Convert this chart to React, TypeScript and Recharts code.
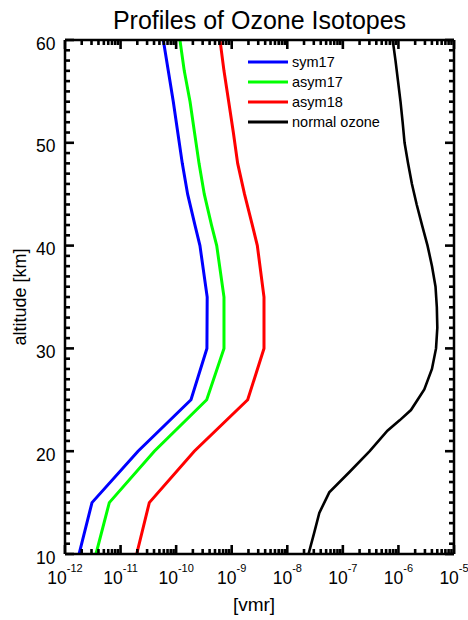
import React from "react";
import { Label, Legend, Line, LineChart, XAxis, YAxis } from "recharts";

// altitude grid of the isotope profiles [km]
const isoAlt = [10, 15, 20, 25, 30, 35, 40, 42, 45, 48, 51, 54, 57, 60];
// vmr values
const sym17 = [
	1.79e-12, 3.06e-12, 2.06e-11, 1.85e-10, 3.58e-10, 3.62e-10, 2.68e-10,
	2.18e-10, 1.61e-10, 1.29e-10, 1.07e-10, 8.89e-11, 7.22e-11, 5.87e-11,
];
const asym17 = [
	3.61e-12, 6.27e-12, 4.05e-11, 3.55e-10, 7.26e-10, 7.26e-10, 5.37e-10,
	4.33e-10, 3.21e-10, 2.58e-10, 2.14e-10, 1.78e-10, 1.4e-10, 1.17e-10,
];
const asym18 = [
	1.95e-11, 3.29e-11, 2.12e-10, 1.94e-9, 3.81e-9, 3.81e-9, 2.89e-9,
	2.35e-9, 1.7e-9, 1.28e-9, 1.07e-9, 8.83e-10, 7.26e-10, 6.15e-10,
];

const ozoneAlt = [
	10, 12, 14, 16, 18, 20, 22, 23, 24, 26, 28, 30, 32, 34, 36, 38, 40, 42, 44,
	46, 48, 50, 52, 54, 56, 58, 60,
];
const ozone = [
	2.41e-8, 3.03e-8, 3.77e-8, 5.7e-8, 1.33e-7, 3.04e-7, 6.34e-7, 1.05e-6,
	1.68e-6, 2.92e-6, 4.01e-6, 4.75e-6, 5.01e-6, 4.91e-6, 4.65e-6, 4.02e-6,
	3.34e-6, 2.66e-6, 2.13e-6, 1.75e-6, 1.49e-6, 1.29e-6, 1.19e-6, 1.09e-6,
	9.83e-7, 8.86e-7, 7.89e-7,
];

// tick layout
const decades = [-12, -11, -10, -9, -8, -7, -6, -5];
const mantissas = [1, 2, 3, 4, 5, 6, 7, 8, 9];
const altMajor = [10, 20, 30, 40, 50, 60];

const xTicks: number[] = [];
decades.forEach((e) => {
	if (e === -5) xTicks.push(1e-5);
	else mantissas.forEach((m) => xTicks.push(m * Math.pow(10, e)));
});
const yTicks: number[] = [];
for (let a = 10; a <= 60; a++) yTicks.push(a);

const FONT = "Liberation Sans, Arial, Helvetica, sans-serif";
const W = 468;
const H = 620;
const MINOR = 5;
const MAJOR = 9;
const TICK_W = 2.6;

const toRows = (alts: number[], vals: number[]) =>
	alts.map((alt, i) => ({ alt, v: vals[i] }));

const series = [
	{ name: "sym17", color: "#0000ff", data: toRows(isoAlt, sym17), width: 3 },
	{ name: "asym17", color: "#00ff00", data: toRows(isoAlt, asym17), width: 3 },
	{ name: "asym18", color: "#ff0000", data: toRows(isoAlt, asym18), width: 3 },
	{ name: "normal ozone", color: "#000000", data: toRows(ozoneAlt, ozone), width: 2.6 },
];
const seriesNames = series.map((s) => s.name);

const isDecade = (v: number) => {
	const lg = Math.log10(v);
	return Math.abs(lg - Math.round(lg)) < 1e-6;
};

// tickSize/tickMargin are 0, so x,y handed to the ticks sit on the axis line
function BottomTick(props: any) {
	const { x, y, payload } = props;
	const major = isDecade(payload.value);
	return (
		<g>
			<line x1={x} x2={x} y1={y} y2={y - (major ? MAJOR : MINOR)} stroke="black" strokeWidth={TICK_W} />
			{major && (
				<text x={x} y={y + 30} textAnchor="middle" fontSize={17.5} fontFamily={FONT} fill="black">
					10
					<tspan dy={-12} fontSize={11}>
						{Math.round(Math.log10(payload.value))}
					</tspan>
				</text>
			)}
		</g>
	);
}

function TopTick(props: any) {
	const { x, y, payload } = props;
	const major = isDecade(payload.value);
	return <line x1={x} x2={x} y1={y} y2={y + (major ? MAJOR : MINOR)} stroke="black" strokeWidth={TICK_W} />;
}

function LeftTick(props: any) {
	const { x, y, payload } = props;
	const major = altMajor.includes(payload.value);
	return (
		<g>
			<line x1={x} x2={x + (major ? MAJOR : MINOR)} y1={y} y2={y} stroke="black" strokeWidth={TICK_W} />
			{major && (
				<text x={x - 9.5} y={y + 9.5} textAnchor="end" fontSize={17.5} fontFamily={FONT} fill="black">
					{payload.value}
				</text>
			)}
		</g>
	);
}

function RightTick(props: any) {
	const { x, y, payload } = props;
	const major = altMajor.includes(payload.value);
	return <line x1={x} x2={x - (major ? MAJOR : MINOR)} y1={y} y2={y} stroke="black" strokeWidth={TICK_W} />;
}

function TitleLabel(props: any) {
	const vb = props.viewBox;
	return (
		<text x={vb.x + vb.width / 2} y={vb.y - 10} textAnchor="middle" fontSize={25} fontFamily={FONT} fill="black">
			Profiles of Ozone Isotopes
		</text>
	);
}

function XTitle(props: any) {
	const vb = props.viewBox;
	return (
		<text x={vb.x + vb.width / 2 - 5.5} y={vb.y + 57} textAnchor="middle" fontSize={19} fontFamily={FONT} fill="black">
			[vmr]
		</text>
	);
}

function YTitle(props: any) {
	const vb = props.viewBox;
	const cy = vb.y + vb.height / 2;
	return (
		<text transform={`translate(25.5,${cy}) rotate(-90)`} textAnchor="middle" fontSize={18} fontFamily={FONT} fill="black">
			altitude [km]
		</text>
	);
}

function LegendBox(props: any) {
	const items = (props.payload ?? []).filter((it: any) => seriesNames.includes(it.value));
	return (
		<div style={{ fontFamily: FONT, fontSize: 14.5, color: "#000" }}>
			{items.map((it: any) => (
				<div key={it.value} style={{ height: 20, lineHeight: "20px", display: "flex", alignItems: "center" }}>
					<svg width={44} height={20} style={{ display: "block" }}>
						<line x1={0} x2={40} y1={10} y2={10} stroke={it.color} strokeWidth={3} />
					</svg>
					<span>{it.value}</span>
				</div>
			))}
		</div>
	);
}

const frame = { stroke: "black", strokeWidth: 2.5 };
const common = {
	interval: 0 as const,
	tickLine: false,
	tickSize: 0,
	tickMargin: 0,
	axisLine: frame,
	allowDataOverflow: true,
};

export default function App() {
	return (
		<div style={{ width: W, height: H }}>
			<style>{"body{margin:0}"}</style>
			<LineChart width={W} height={H} margin={{ top: 39, right: 13, bottom: 65, left: 64 }}>
				<XAxis {...common} dataKey="v" type="number" scale="log" domain={[1e-12, 1e-5]} ticks={xTicks} tick={<BottomTick />} height={1}>
					<Label content={<XTitle />} />
				</XAxis>
				<XAxis {...common} xAxisId="top" orientation="top" dataKey="v" type="number" scale="log" domain={[1e-12, 1e-5]} ticks={xTicks} tick={<TopTick />} height={1}>
					<Label content={<TitleLabel />} />
				</XAxis>
				<YAxis {...common} type="number" domain={[10, 60]} ticks={yTicks} tick={<LeftTick />} width={1}>
					<Label content={<YTitle />} />
				</YAxis>
				<YAxis {...common} yAxisId="right" orientation="right" type="number" domain={[10, 60]} ticks={yTicks} tick={<RightTick />} width={1} />
				<Legend
					layout="vertical"
					align="center"
					verticalAlign="middle"
					itemSorter={(item: any) => seriesNames.indexOf(item.value)}
					content={<LegendBox />}
					wrapperStyle={{ left: 248, top: 52, width: 160, height: 80 }}
				/>
				{/* invisible copy so the mirrored top/right axes have data to scale */}
				<Line
					data={series[3].data}
					dataKey="alt"
					name="mirror"
					xAxisId="top"
					yAxisId="right"
					stroke="none"
					legendType="none"
					dot={false}
					activeDot={false}
					isAnimationActive={false}
				/>
				{series.map((s) => (
					<Line
						key={s.name}
						data={s.data}
						dataKey="alt"
						name={s.name}
						type="linear"
						stroke={s.color}
						strokeWidth={s.width}
						dot={false}
						activeDot={false}
						isAnimationActive={false}
					/>
				))}
			</LineChart>
		</div>
	);
}
